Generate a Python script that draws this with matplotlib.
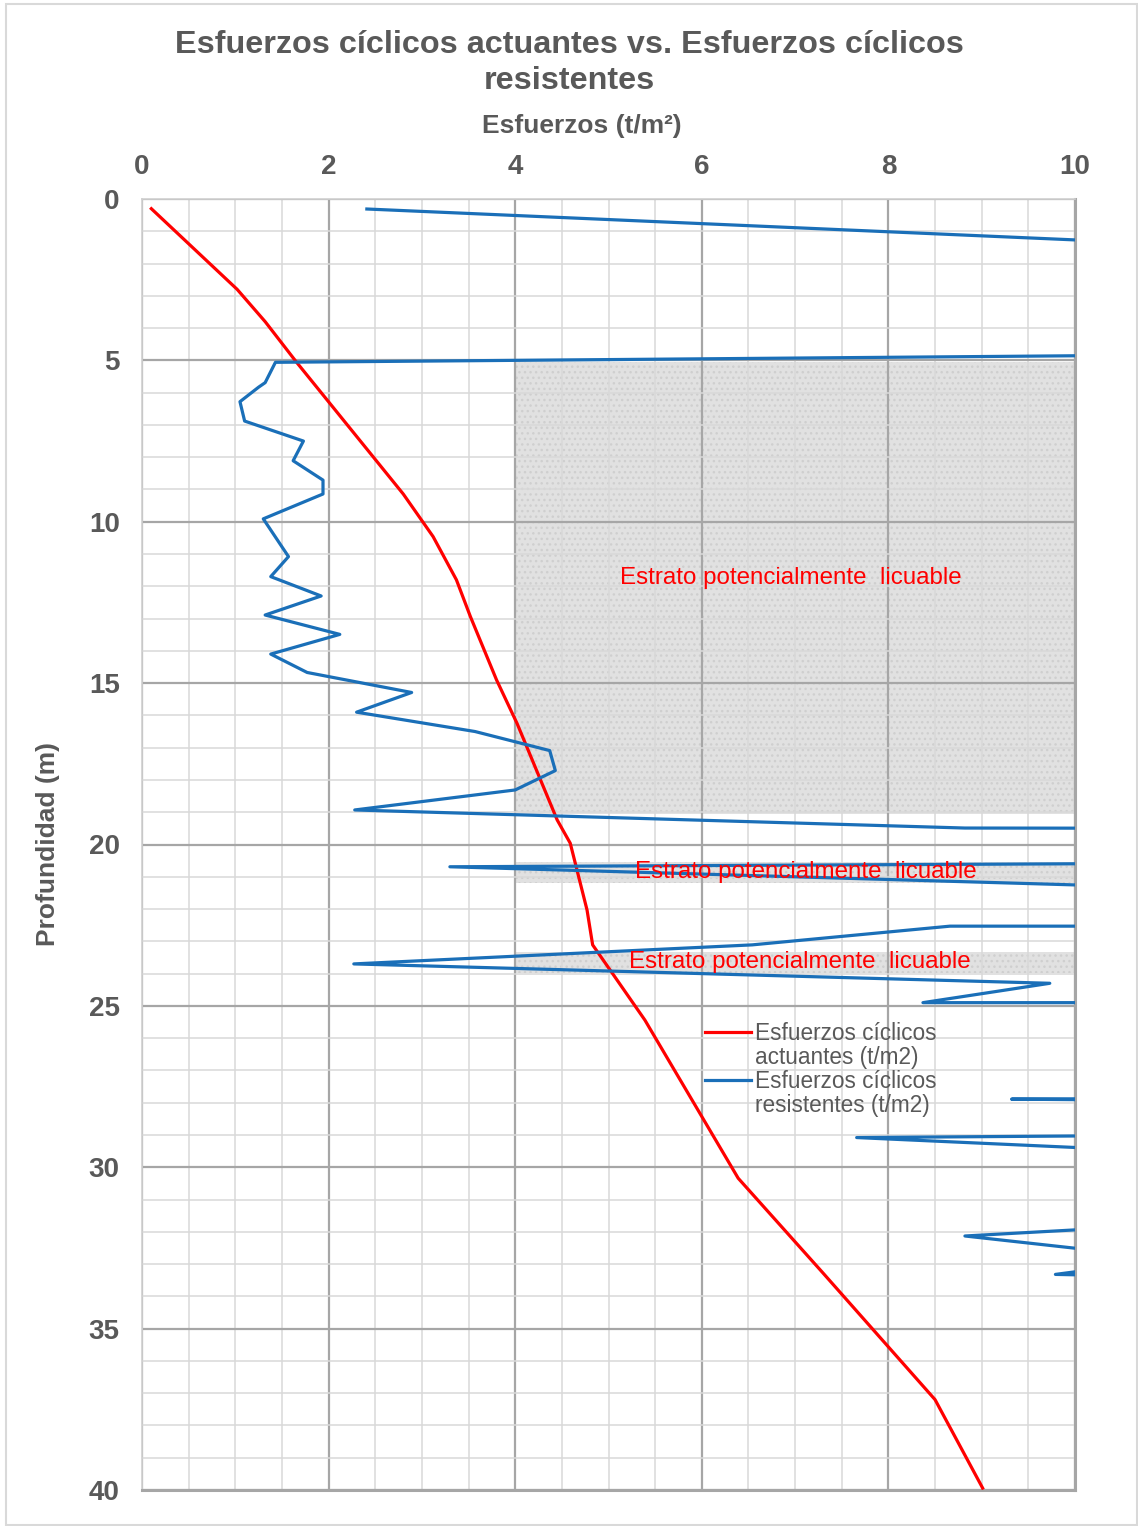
import matplotlib
matplotlib.use("Agg")
import matplotlib.pyplot as plt
from matplotlib.patches import Rectangle
from matplotlib.ticker import MultipleLocator

plt.rcParams["font.family"] = ["Liberation Sans", "DejaVu Sans"]
plt.rcParams["hatch.color"] = "#c9c9c9"

# Esfuerzos ciclicos actuantes (t/m2) vs profundidad (m)
act_x = [0.10, 1.02, 1.32, 1.66, 2.80, 3.12, 3.37, 3.52, 3.80, 4.02, 4.45, 4.59, 4.77, 4.83, 5.39, 6.39, 7.30, 8.50, 9.01]
act_d = [0.30, 2.80, 3.80, 5.07, 9.14, 10.46, 11.80, 12.94, 14.90, 16.25, 19.24, 19.96, 22.03, 23.11, 25.44, 30.34, 33.28, 37.20, 39.94]

# Esfuerzos ciclicos resistentes (t/m2); values above 10 fall outside the axis
res_x = [2.41, 12.0, 12.0, 1.43, 1.32, 1.25, 1.05, 1.10, 1.73, 1.62, 1.94, 1.94, 1.30, 1.57, 1.38, 1.92, 1.32, 2.12,
         1.38, 1.77, 2.89, 2.30, 3.57, 4.37, 4.43, 4.00, 2.28, 8.82, 12.0, 12.0, 3.30, 12.0, 12.0, 8.66, 6.54, 2.27,
         9.73, 8.37, 12.0, 12.0, 9.32, 12.0, 12.0, 7.66, 12.0, 12.0, 8.82, 12.0, 10.5, 9.79, 12.0]
res_d = [0.31, 1.52, 4.81, 5.06, 5.69, 5.83, 6.28, 6.88, 7.50, 8.11, 8.71, 9.14, 9.91, 11.08, 11.70, 12.30, 12.89, 13.49,
         14.10, 14.67, 15.29, 15.90, 16.50, 17.09, 17.71, 18.31, 18.93, 19.49, 19.50, 20.57, 20.69, 21.42, 22.53, 22.53,
         23.11, 23.70, 24.30, 24.90, 24.90, 27.85, 27.89, 27.95, 28.99, 29.08, 29.65, 31.62, 32.13, 33.15, 33.05, 33.32,
         33.45]

# Estratos potencialmente licuables: (x inicio, x fin, prof. inicio, prof. fin)
estratos = [(4.0, 10.0, 5.05, 19.05), (4.0, 10.0, 20.55, 21.20), (4.0, 10.0, 23.32, 23.99)]
etiquetas_x = [6.95, 7.11, 7.05]
etiquetas_d = [11.74, 20.85, 23.64]

gris = "#595959"

fig = plt.figure(figsize=(11.38, 15.26), dpi=100)
ax = fig.add_axes([142 / 1138, 1 - 1490 / 1526, 933 / 1138, 1291 / 1526])

for x0, x1, d0, d1 in estratos:
    ax.add_patch(Rectangle((x0, d0), x1 - x0, d1 - d0, facecolor="#e1e1e1", edgecolor="#cfcfcf",
                           hatch="...", linewidth=0, zorder=0.3))

ax.plot(act_x, act_d, color="#ff0000", lw=2.3, label="Esfuerzos cíclicos\nactuantes (t/m2)", zorder=3)
ax.plot(res_x, res_d, color="#1a6fb8", lw=2.3, label="Esfuerzos cíclicos\nresistentes (t/m2)", zorder=3)

for xt, dt in zip(etiquetas_x, etiquetas_d):
    ax.text(xt, dt, "Estrato potencialmente  licuable", color="#ff0000", fontsize=17.4,
            ha="center", va="center", zorder=4)

ax.set_xlim(0, 10)
ax.set_ylim(40, 0)
ax.xaxis.set_major_locator(MultipleLocator(2))
ax.xaxis.set_minor_locator(MultipleLocator(0.5))
ax.yaxis.set_major_locator(MultipleLocator(5))
ax.yaxis.set_minor_locator(MultipleLocator(1))
ax.set_axisbelow(True)
ax.grid(which="major", color="#a6a6a6", lw=1.6)
ax.grid(which="minor", color="#d9d9d9", lw=1.1)

ax.xaxis.tick_top()
ax.xaxis.set_label_position("top")
ax.tick_params(which="both", length=0)
ax.tick_params(axis="x", pad=13.5, labelsize=20, labelcolor=gris)
ax.tick_params(axis="y", pad=16, labelsize=20, labelcolor=gris)
for lbl in ax.get_xticklabels() + ax.get_yticklabels():
    lbl.set_fontweight("bold")

for s in ["left", "top"]:
    ax.spines[s].set_color("#cfcfcf")
    ax.spines[s].set_linewidth(1.2)
for s in ["right", "bottom"]:
    ax.spines[s].set_color("#a6a6a6")
    ax.spines[s].set_linewidth(2.2)

ax.set_xlabel("Esfuerzos (t/m²)", fontsize=19, fontweight="bold", color=gris)
ax.xaxis.set_label_coords(0.4716, 1 + 66 / 1291)
ax.set_ylabel("Profundidad (m)", fontsize=19, fontweight="bold", color=gris)
ax.yaxis.set_label_coords(-82 / 933, 0.5)

fig.text(0.5, 1 - 63 / 1526, "Esfuerzos cíclicos actuantes vs. Esfuerzos cíclicos\nresistentes",
         ha="center", va="center", fontsize=23.3, fontweight="bold", color=gris, linespacing=1.25)

leg = ax.legend(loc="upper left", bbox_to_anchor=(0.5916, 0.3715), frameon=False, fontsize=16.3,
                labelcolor=gris, handlelength=2.0, handletextpad=0.2, labelspacing=0.05, borderpad=0)
for t in leg.get_texts():
    t.set_linespacing(1.05)
# put each handle next to the first line of its label
for ln in leg.get_lines():
    ln.set_ydata([y + 10 for y in ln.get_ydata()])

fig.patches.append(Rectangle((6 / 1138, 1 / 1526), 1131 / 1138, 1521 / 1526, transform=fig.transFigure,
                             fill=False, edgecolor="#d9d9d9", lw=1.5))

fig.savefig("out.png", dpi=100)
